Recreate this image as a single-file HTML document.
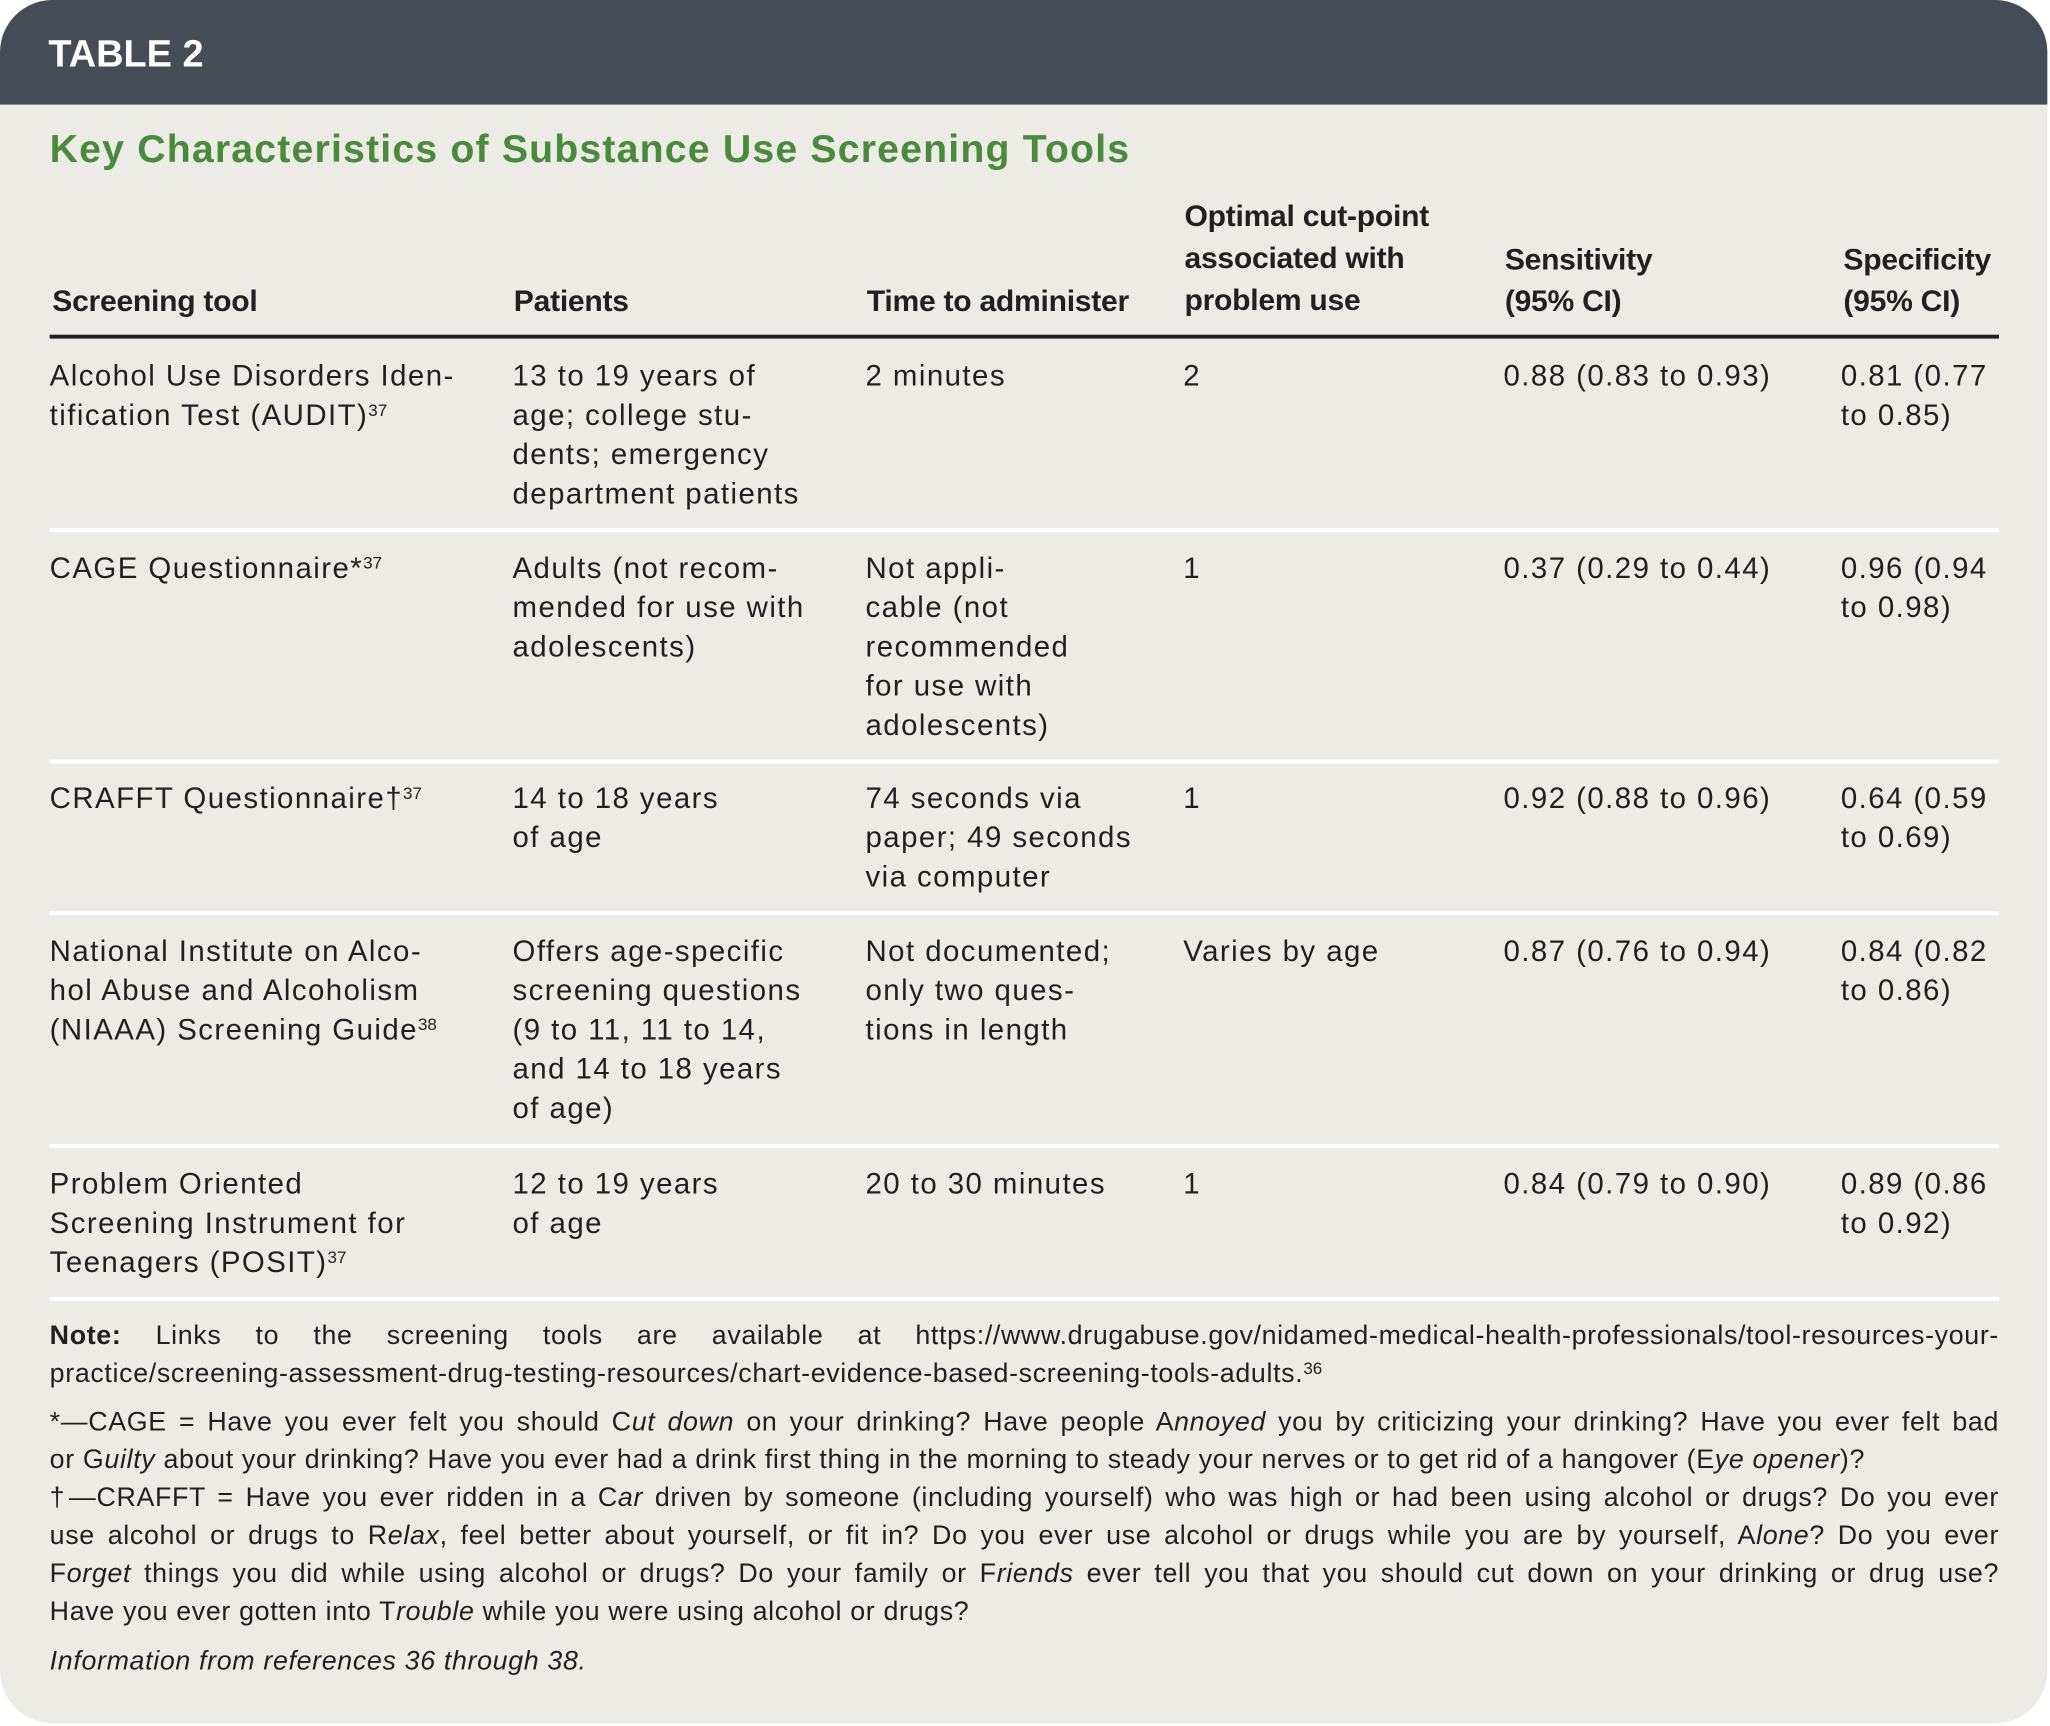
<!DOCTYPE html>
<html><head><meta charset="utf-8"><style>
html,body{margin:0;padding:0;background:#fff;width:2050px;height:1726px;overflow:hidden}
#w{position:absolute;left:0;top:0;width:1568px;height:1320px;transform:scale(1.30740);transform-origin:0 0;font-family:"Liberation Sans",sans-serif;color:#231f20}
#card{position:absolute;left:0;top:0;width:1566px;height:1318px;background:#ecebe6;border-radius:40px;overflow:hidden}
#hd{position:absolute;left:0;top:0;width:1566px;height:80px;background:#464c55}
.t{position:absolute;white-space:nowrap;font-size:22.5px;line-height:30px;letter-spacing:1.1px}
.h{position:absolute;white-space:nowrap;font-size:23px;line-height:32px;font-weight:bold;letter-spacing:-0.2px}
.rule{position:absolute;left:38px;width:1491px;height:3px;background:#fff}
sup{font-size:13px;vertical-align:top;position:relative;top:-4px;letter-spacing:0}
.n{position:absolute;left:38px;width:1491px;font-size:20.5px;line-height:29px;letter-spacing:0.5px}
.n div{white-space:nowrap;text-align:justify;text-align-last:justify}
.n div.l{text-align-last:left}
</style></head><body><div id="w"><div id="card">
<div id="hd"></div>
<div class="t" style="left:37px;top:25px;color:#fff;font-size:29px;font-weight:bold;line-height:34px;letter-spacing:0">TABLE 2</div>
<div class="t" style="left:38px;top:97px;color:#4a8a3c;font-size:30px;font-weight:bold;line-height:36px;letter-spacing:0.9px">Key Characteristics of Substance Use Screening Tools</div>

<div class="h" style="left:40px;top:214px">Screening tool</div>
<div class="h" style="left:393px;top:214px">Patients</div>
<div class="h" style="left:663px;top:214px">Time to administer</div>
<div class="h" style="left:906px;top:149px">Optimal cut-point<br>associated with<br>problem use</div>
<div class="h" style="left:1151px;top:182px">Sensitivity<br>(95% CI)</div>
<div class="h" style="left:1410px;top:182px">Specificity<br>(95% CI)</div>
<div style="position:absolute;left:38px;top:256px;width:1491px;height:3px;background:#231f20"></div>

<div class="t" style="left:38px;top:273px">Alcohol Use Disorders Iden-<br>tification Test (AUDIT)<sup>37</sup></div>
<div class="t" style="left:392px;top:273px">13 to 19 years of<br>age; college stu-<br>dents; emergency<br>department patients</div>
<div class="t" style="left:662px;top:273px">2 minutes</div>
<div class="t" style="left:905px;top:273px">2</div>
<div class="t" style="left:1150px;top:273px">0.88 (0.83 to 0.93)</div>
<div class="t" style="left:1408px;top:273px">0.81 (0.77<br>to 0.85)</div>
<div class="rule" style="top:404px"></div>

<div class="t" style="left:38px;top:420px">CAGE Questionnaire*<sup>37</sup></div>
<div class="t" style="left:392px;top:420px">Adults (not recom-<br>mended for use with<br>adolescents)</div>
<div class="t" style="left:662px;top:420px">Not appli-<br>cable (not<br>recommended<br>for use with<br>adolescents)</div>
<div class="t" style="left:905px;top:420px">1</div>
<div class="t" style="left:1150px;top:420px">0.37 (0.29 to 0.44)</div>
<div class="t" style="left:1408px;top:420px">0.96 (0.94<br>to 0.98)</div>
<div class="rule" style="top:581px"></div>

<div class="t" style="left:38px;top:596px">CRAFFT Questionnaire†<sup>37</sup></div>
<div class="t" style="left:392px;top:596px">14 to 18 years<br>of age</div>
<div class="t" style="left:662px;top:596px">74 seconds via<br>paper; 49 seconds<br>via computer</div>
<div class="t" style="left:905px;top:596px">1</div>
<div class="t" style="left:1150px;top:596px">0.92 (0.88 to 0.96)</div>
<div class="t" style="left:1408px;top:596px">0.64 (0.59<br>to 0.69)</div>
<div class="rule" style="top:697px"></div>

<div class="t" style="left:38px;top:713px">National Institute on Alco-<br>hol Abuse and Alcoholism<br>(NIAAA) Screening Guide<sup>38</sup></div>
<div class="t" style="left:392px;top:713px">Offers age-specific<br>screening questions<br>(9 to 11, 11 to 14,<br>and 14 to 18 years<br>of age)</div>
<div class="t" style="left:662px;top:713px">Not documented;<br>only two ques-<br>tions in length</div>
<div class="t" style="left:905px;top:713px">Varies by age</div>
<div class="t" style="left:1150px;top:713px">0.87 (0.76 to 0.94)</div>
<div class="t" style="left:1408px;top:713px">0.84 (0.82<br>to 0.86)</div>
<div class="rule" style="top:875px"></div>

<div class="t" style="left:38px;top:891px">Problem Oriented<br>Screening Instrument for<br>Teenagers (POSIT)<sup>37</sup></div>
<div class="t" style="left:392px;top:891px">12 to 19 years<br>of age</div>
<div class="t" style="left:662px;top:891px">20 to 30 minutes</div>
<div class="t" style="left:905px;top:891px">1</div>
<div class="t" style="left:1150px;top:891px">0.84 (0.79 to 0.90)</div>
<div class="t" style="left:1408px;top:891px">0.89 (0.86<br>to 0.92)</div>
<div class="rule" style="top:992px"></div>

<div class="n" style="top:1007px">
<div><b>Note:</b> Links to the screening tools are available at https://www.drugabuse.gov/nidamed-medical-health-professionals/tool-resources-your-</div>
<div class="l">practice/screening-assessment-drug-testing-resources/chart-evidence-based-screening-tools-adults.<sup>36</sup></div>
</div>
<div class="n" style="top:1073px">
<div>*—CAGE = Have you ever felt you should C<i>ut down</i> on your drinking? Have people A<i>nnoyed</i> you by criticizing your drinking? Have you ever felt bad</div>
<div class="l">or G<i>uilty</i> about your drinking? Have you ever had a drink first thing in the morning to steady your nerves or to get rid of a hangover (E<i>ye opener</i>)?</div>
<div>†—CRAFFT = Have you ever ridden in a C<i>ar</i> driven by someone (including yourself) who was high or had been using alcohol or drugs? Do you ever</div>
<div>use alcohol or drugs to R<i>elax</i>, feel better about yourself, or fit in? Do you ever use alcohol or drugs while you are by yourself, A<i>lone</i>? Do you ever</div>
<div>F<i>orget</i> things you did while using alcohol or drugs? Do your family or F<i>riends</i> ever tell you that you should cut down on your drinking or drug use?</div>
<div class="l">Have you ever gotten into T<i>rouble</i> while you were using alcohol or drugs?</div>
</div>
<div class="n" style="top:1256px;font-style:italic">Information from references 36 through 38.</div>
</div></div></body></html>
